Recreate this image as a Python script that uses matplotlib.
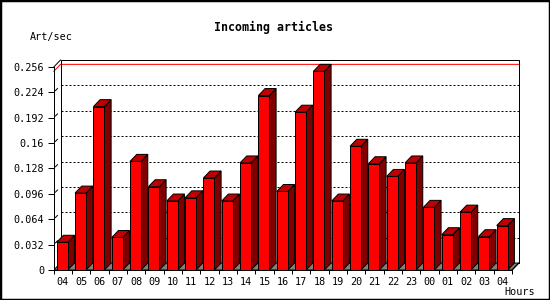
import numpy as np
import matplotlib
matplotlib.use("Agg")
import matplotlib.pyplot as plt
from matplotlib.patches import Polygon, Rectangle

# Donnees
heures = ["04", "05", "06", "07", "08", "09", "10", "11", "12", "13", "14", "15",
          "16", "17", "18", "19", "20", "21", "22", "23", "00", "01", "02", "03", "04"]
valeurs = [0.035, 0.097, 0.206, 0.041, 0.137, 0.105, 0.087, 0.091, 0.116, 0.087,
           0.135, 0.220, 0.099, 0.199, 0.2505, 0.087, 0.156, 0.134, 0.118, 0.135,
           0.079, 0.0445, 0.073, 0.042, 0.056]
graduations = [0, 0.032, 0.064, 0.096, 0.128, 0.16, 0.192, 0.224, 0.256]
etiquettes_y = ["0", "0.032", "0.064", "0.096", "0.128", "0.16", "0.192", "0.224", "0.256"]

plt.rcParams['font.family'] = ['DejaVu Sans Mono']

# profondeur de l'effet 3D (en unites des donnees)
dx = 0.366
dy = 0.0088
haut = 0.256
larg = 0.6
dec = -0.04
px = 0.72  # un pixel en points

fig = plt.figure(figsize=(5.5, 3.0), dpi=100)
ax = fig.add_axes([53.8 / 550, 0.1, 465 / 550, 0.7])
n = len(valeurs)
x = np.arange(n)
ax.set_xlim(-0.5, n - 0.5 + dx)
ax.set_ylim(0, haut + dy)

# plan du fond : grille pointillee
for v in graduations[1:-1]:
    ax.plot([-0.5 + dx, n - 0.5 + dx], [v + dy, v + dy], color='black', lw=px,
            linestyle=(0, (2, 2)), zorder=1)
    ax.plot([-0.5 + 0.25 * dx, -0.5 + 0.55 * dx], [v + 0.25 * dy, v + 0.55 * dy],
            color='black', lw=px, zorder=1)

# ligne rouge du maximum
vmax = max(valeurs)
ax.plot([-0.5, -0.5 + dx, n - 0.5 + dx], [vmax, vmax + dy, vmax + dy], color='red',
        lw=px, zorder=2, clip_on=False)

# cadre du fond
ax.plot([-0.5 + dx, -0.5 + dx, n - 0.5 + dx, n - 0.5 + dx],
        [dy, haut + dy, haut + dy, dy], color='black', lw=px, zorder=2, clip_on=False)
ax.plot([-0.5, -0.5 + dx], [haut, haut + dy], color='black', lw=px, zorder=2, clip_on=False)

# sol gris
sol = Polygon([[-0.5, 0], [n - 0.5, 0], [n - 0.5 + dx, dy], [-0.5 + dx, dy]],
              closed=True, facecolor='#808080', edgecolor='black', lw=px, zorder=2)
ax.add_patch(sol)

# barres : face avant, cote et dessus
ax.bar(x + dec, valeurs, width=larg, color='#ff0000', edgecolor='black', lw=px, zorder=4)
for xi, v in zip(x, valeurs):
    d = xi + dec + larg / 2
    g = xi + dec - larg / 2
    cote = Polygon([[d, 0], [d + dx, dy], [d + dx, v + dy], [d, v]], closed=True,
                   facecolor='#800000', edgecolor='black', lw=px, zorder=3)
    dessus = Polygon([[g, v], [d, v], [d + dx, v + dy], [g + dx, v + dy]], closed=True,
                     facecolor='#c00000', edgecolor='black', lw=px, zorder=3)
    ax.add_patch(cote)
    ax.add_patch(dessus)

ax.plot([n - 0.5, n - 0.5 + dx], [0, dy], color='black', lw=px, zorder=5)

# axes
for s in ['top', 'right']:
    ax.spines[s].set_visible(False)
ax.spines['left'].set_bounds(0, haut)
ax.spines['bottom'].set_bounds(-0.5, n - 0.5)
ax.spines['left'].set_linewidth(px)
ax.spines['bottom'].set_linewidth(px)
ax.spines['left'].set_zorder(6)
ax.spines['bottom'].set_zorder(6)
ax.set_yticks(graduations)
ax.set_yticklabels(etiquettes_y)
ax.tick_params(axis='y', length=4, width=px, pad=3, labelsize=7.3)
ax.set_xticks(x)
ax.set_xticklabels(heures)
ax.tick_params(axis='x', length=0, pad=5, labelsize=7.3)
ax.set_xticks(np.arange(n + 1) - 0.5, minor=True)
ax.tick_params(axis='x', which='minor', length=3, width=px)
ax.patch.set_alpha(0)

fig.text(274 / 550, 1 - 27 / 300, "Incoming articles", ha='center', va='center',
         fontsize=8.4, fontweight='bold')
fig.text(30 / 550, 1 - 37 / 300, "Art/sec", ha='left', va='center', fontsize=7.3)
fig.text(504 / 550, 1 - 292 / 300, "Hours", ha='left', va='center', fontsize=7.3)

fig.patches.append(Rectangle((0, 0), 1, 1, transform=fig.transFigure, fill=False,
                             edgecolor='black', lw=2.5))

fig.savefig("out.png", dpi=100)
